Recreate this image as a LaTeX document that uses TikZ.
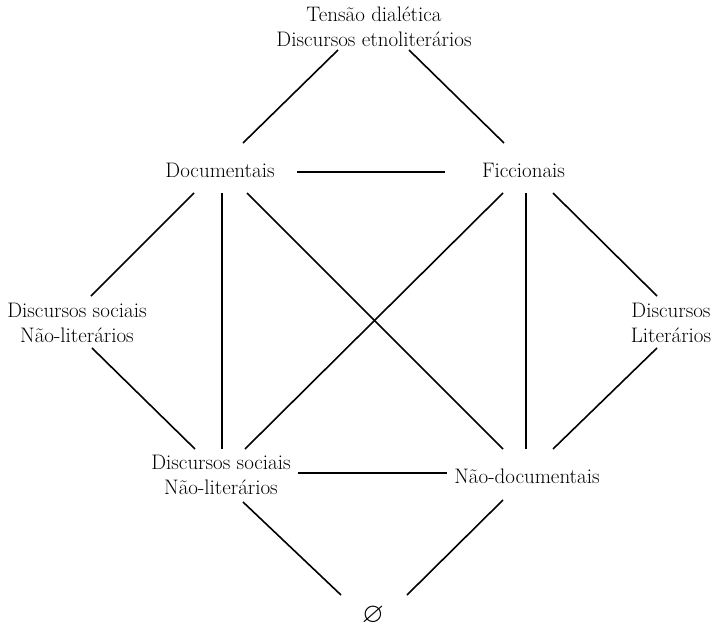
\documentclass[tikz,border=0pt]{standalone}
\usepackage{amssymb}
\usepackage{tikz}

\begin{document}
\begin{tikzpicture}[
		x=1pt, y=-1pt,
		every node/.style={align=center, inner sep=0pt, font=\fontsize{21}{25}\selectfont},
		link/.style={line width=1.6pt}
	]
  \useasboundingbox (0,0) rectangle (713,629);
  \node (top) at (374,27) {Tensão dialética\\Discursos etnoliterários};
  \node (doc) at (220,170) {Documentais};
  \node (fic) at (523.5,170) {Ficcionais};
  \node (soc) at (77,322.5) {Discursos sociais\\Não-literários};
  \node (lit) at (671,323) {Discursos\\Literários};
  \node (nlit) at (221,475) {Discursos sociais\\Não-literários};
  \node (ndoc) at (527,476) {Não-documentais};
  \node (empty) [font=\fontsize{28}{28}\selectfont] at (373,615) {$\varnothing$};
  \draw[link] ([shift={(-36,23)}]top.center) -- ([shift={(23,-27)}]doc.center);
  \draw[link] ([shift={(35,23)}]top.center) -- ([shift={(-19.5,-27)}]fic.center);
  \draw[link] ([shift={(77,2)}]doc.center) -- ([shift={(-78.5,2)}]fic.center);
  \draw[link] ([shift={(-26,23)}]doc.center) -- ([shift={(14,-26.5)}]soc.center);
  \draw[link] ([shift={(2,23)}]doc.center) -- ([shift={(1,-26)}]nlit.center);
  \draw[link] ([shift={(27,23)}]doc.center) -- ([shift={(-24,-27)}]ndoc.center);
  \draw[link] ([shift={(-20.5,23)}]fic.center) -- ([shift={(24,-26)}]nlit.center);
  \draw[link] ([shift={(2.5,23)}]fic.center) -- ([shift={(-1,-27)}]ndoc.center);
  \draw[link] ([shift={(29.5,23)}]fic.center) -- ([shift={(-14,-27)}]lit.center);
  \draw[link] ([shift={(15,25.5)}]soc.center) -- ([shift={(-26,-26)}]nlit.center);
  \draw[link] ([shift={(-14,25)}]lit.center) -- ([shift={(26,-27)}]ndoc.center);
  \draw[link] ([shift={(77,-2)}]nlit.center) -- ([shift={(-80,-3)}]ndoc.center);
  \draw[link] ([shift={(22,27)}]nlit.center) -- ([shift={(-32,-20)}]empty.center);
  \draw[link] ([shift={(-24,24)}]ndoc.center) -- ([shift={(34,-20)}]empty.center);
\end{tikzpicture}
\end{document}
